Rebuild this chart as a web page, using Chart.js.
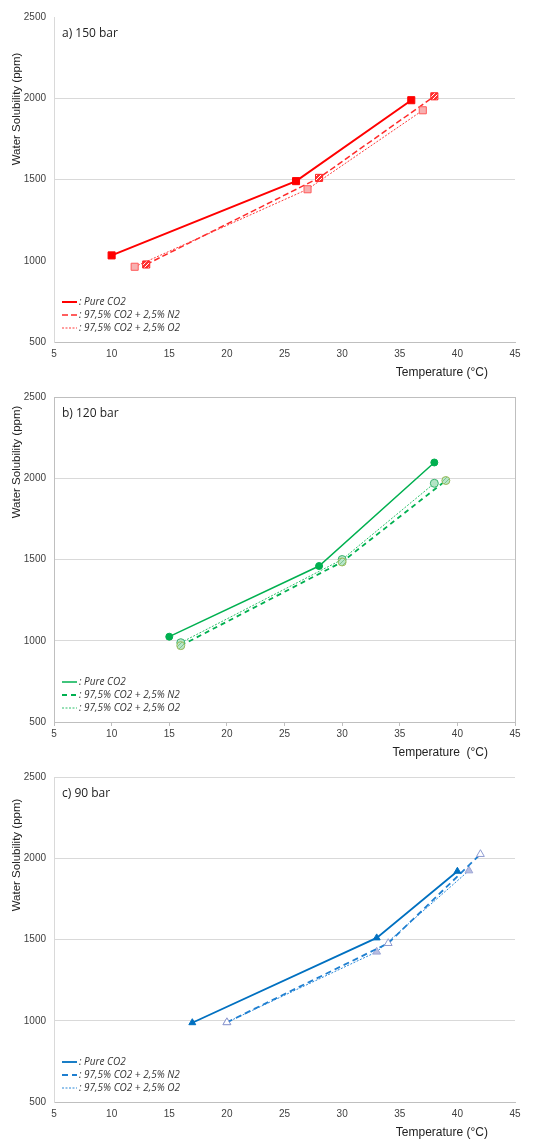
<!DOCTYPE html>
<html>
<head>
<meta charset="utf-8">
<script src="https://cdn.jsdelivr.net/npm/chart.js@4"></script>
<style>
  body { margin: 0; background: #fff; }
  canvas { display: block; }
</style>
</head>
<body>
<canvas id="chartA" width="560" height="380"></canvas>
<canvas id="chartB" width="560" height="380"></canvas>
<canvas id="chartC" width="560" height="380"></canvas>
<script>
// axis ticks
const xTicks = [5, 10, 15, 20, 25, 30, 35, 40, 45];
const yTicks = [500, 1000, 1500, 2000, 2500];
const seriesLabels = [": Pure CO2", ": 97,5% CO2 + 2,5% N2", ": 97,5% CO2 + 2,5% O2"];

// a) 150 bar
const tA_pure = [10, 26, 36];
const wA_pure = [1033, 1490, 1988];
const tA_n2 = [13, 28, 38];
const wA_n2 = [977, 1510, 2012];
const tA_o2 = [12, 27, 37];
const wA_o2 = [963, 1440, 1926];

// b) 120 bar
const tB_pure = [15, 28, 38];
const wB_pure = [1025, 1460, 2097];
const tB_n2 = [16, 30, 39];
const wB_n2 = [970, 1485, 1986];
const tB_o2 = [16, 30, 38];
const wB_o2 = [988, 1500, 1969];

// c) 90 bar
const tC_pure = [17, 33, 40];
const wC_pure = [988, 1510, 1920];
const tC_n2 = [20, 34, 42];
const wC_n2 = [990, 1477, 2025];
const tC_o2 = [20, 33, 41];
const wC_o2 = [990, 1424, 1924];

function pts(xs, ys) {
    return xs.map((x, i) => ({ x: x, y: ys[i] }));
}

// small diagonal hatch used for the N2 markers
function makeHatch(bg, fg) {
    const c = document.createElement("canvas");
    c.width = 4; c.height = 4;
    const g = c.getContext("2d");
    g.fillStyle = bg;
    g.fillRect(0, 0, 4, 4);
    g.strokeStyle = fg;
    g.lineWidth = 1;
    g.beginPath();
    g.moveTo(0, 4); g.lineTo(4, 0);
    g.stroke();
    return g.createPattern(c, "repeat");
}

// title, y title, x title, legend and box drawn by hand (Excel-like placement)
const panelText = {
    id: "panelText",
    afterDatasetsDraw(chart, args, opts) {
        const ctx = chart.ctx;
        const area = chart.chartArea;
        ctx.save();
        if (opts.box) {
            ctx.strokeStyle = "#bfbfbf";
            ctx.lineWidth = 1;
            ctx.strokeRect(area.left + 0.5, area.top + 0.5, area.right - area.left, area.bottom - area.top);
        }
        ctx.fillStyle = "#222";
        ctx.font = "12px 'Open Sans'";
        ctx.textBaseline = "middle";
        ctx.textAlign = "left";
        ctx.fillText(opts.label, 62, 34);

        ctx.font = "12px 'Liberation Sans'";
        ctx.textAlign = "right";
        ctx.fillText(opts.xTitle, 488, 373);

        ctx.save();
        ctx.translate(17, opts.yTitleY);
        ctx.rotate(-Math.PI / 2);
        ctx.textAlign = "center";
        ctx.font = "11.5px 'Liberation Sans'";
        ctx.fillText("Water Solubility (ppm)", 0, 0);
        ctx.restore();

        // legend
        const rows = [302, 315, 328];
        chart.data.datasets.forEach((ds, i) => {
            const y = rows[i];
            ctx.strokeStyle = ds.borderColor;
            ctx.lineWidth = ds.borderWidth;
            ctx.setLineDash(ds.borderDash || []);
            ctx.beginPath();
            ctx.moveTo(62, y);
            ctx.lineTo(77, y);
            ctx.stroke();
            ctx.setLineDash([]);
            ctx.fillStyle = "#333";
            ctx.textAlign = "left";
            ctx.font = "italic 10px 'Open Sans'";
            ctx.fillText(ds.label, 79, y);
        });
        ctx.restore();
    }
};

function makeChart(id, sets, opt) {
    const ctx = document.getElementById(id).getContext("2d");
    return new Chart(ctx, {
        type: "scatter",
        data: { datasets: sets },
        plugins: [panelText],
        options: {
            responsive: false,
            animation: false,
            layout: { padding: { top: 17, right: 45, left: 0, bottom: 0 } },
            plugins: {
                legend: { display: false },
                tooltip: { enabled: false },
                panelText: { label: opt.label, xTitle: opt.xTitle, yTitleY: opt.yTitleY, box: opt.box }
            },
            scales: {
                x: {
                    type: "linear",
                    min: 5, max: 45,
                    afterBuildTicks: s => { s.ticks = xTicks.map(v => ({ value: v })); },
                    afterFit: s => { s.height = 38; },
                    grid: {
                        drawOnChartArea: false,
                        drawTicks: opt.box,
                        tickLength: 4,
                        color: "#bfbfbf"
                    },
                    border: { color: "#bfbfbf" },
                    ticks: {
                        padding: opt.box ? 2 : 6,
                        color: "#404040",
                        callback: v => String(v),
                        font: { family: "'Liberation Sans'", size: 10 }
                    }
                },
                y: {
                    min: 500, max: 2500,
                    afterBuildTicks: s => { s.ticks = yTicks.map(v => ({ value: v })); },
                    afterFit: s => { s.width = 54; },
                    grid: {
                        drawTicks: false,
                        color: c => opt.grid.includes(c.tick.value) ? "#d9d9d9" : "rgba(0,0,0,0)"
                    },
                    border: { color: "#d9d9d9" },
                    ticks: {
                        padding: 8,
                        color: "#404040",
                        callback: v => String(v),
                        font: { family: "'Liberation Sans'", size: 10 }
                    }
                }
            }
        }
    });
}

function series(label, data, color, dash, width, style, radius, fill, edge) {
    return {
        label: label,
        data: data,
        showLine: true,
        borderColor: color,
        borderDash: dash,
        borderWidth: width,
        pointStyle: style,
        pointRadius: radius,
        pointBackgroundColor: fill,
        pointBorderColor: edge,
        pointBorderWidth: 1
    };
}

const setsA = [
    series(seriesLabels[0], pts(tA_pure, wA_pure), "#ff0000", [], 2, "rect", 5, "#ff0000", "#ff0000"),
    series(seriesLabels[1], pts(tA_n2, wA_n2), "#ff2a2a", [6, 3], 1.5, "rect", 5, makeHatch("#ff3030", "#ffffff"), "#ff2020"),
    series(seriesLabels[2], pts(tA_o2, wA_o2), "#ff3b3b", [2, 1.5], 1, "rect", 5, "#f7b0b0", "#ff5a5a")
];
setsA.forEach((d, i) => { d.order = -i; });
makeChart("chartA", setsA, { label: "a) 150 bar", xTitle: "Temperature (°C)", yTitleY: 109, box: false, grid: [1500, 2000] });

const setsB = [
    series(seriesLabels[0], pts(tB_pure, wB_pure), "#00b050", [], 1.5, "circle", 3.5, "#00b050", "#00b050"),
    series(seriesLabels[1], pts(tB_n2, wB_n2), "#00b050", [5, 4], 1.8, "circle", 4, makeHatch("#b8e6c8", "#7cc48f"), "#9bbb59"),
    series(seriesLabels[2], pts(tB_o2, wB_o2), "#2cc06a", [2, 1.5], 1, "circle", 4, "#b3e5c6", "#3cb371")
];
makeChart("chartB", setsB, { label: "b) 120 bar", xTitle: "Temperature  (°C)", yTitleY: 82, box: true, grid: [1000, 1500, 2000] });

const setsC = [
    series(seriesLabels[0], pts(tC_pure, wC_pure), "#0070c0", [], 1.8, "triangle", 4, "#0070c0", "#0070c0"),
    series(seriesLabels[1], pts(tC_n2, wC_n2), "#1f7fd0", [6, 4], 1.8, "triangle", 4.5, "#ffffff", "#8e9ad0"),
    series(seriesLabels[2], pts(tC_o2, wC_o2), "#2a88d8", [2, 1.5], 1, "triangle", 4.5, "#b7bde0", "#9ea6d6")
];
makeChart("chartC", setsC, { label: "c) 90 bar", xTitle: "Temperature (°C)", yTitleY: 95, box: false, grid: [1000, 1500, 2000, 2500] });
</script>
</body>
</html>
